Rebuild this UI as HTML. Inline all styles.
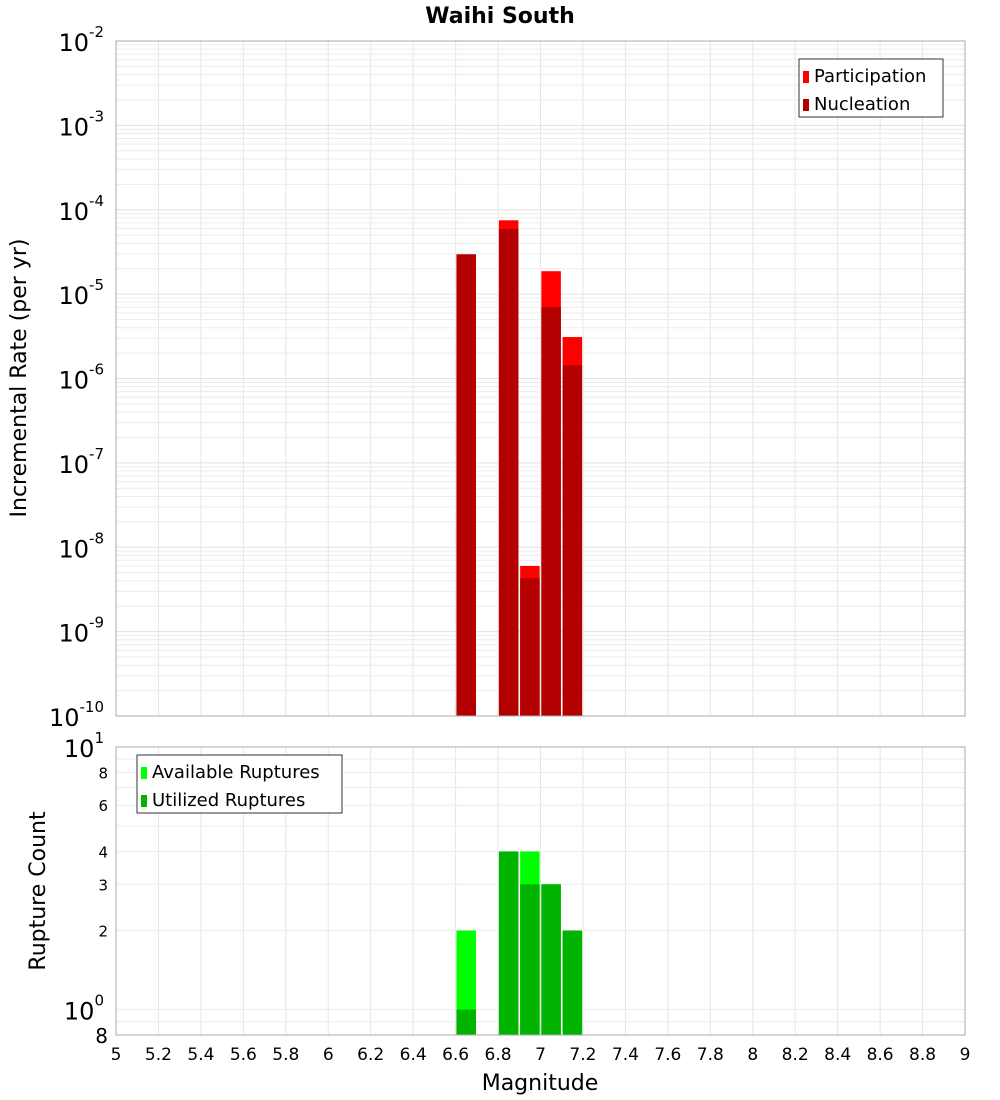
<!DOCTYPE html>
<html><head><meta charset="utf-8"><style>body{margin:0;background:#fff}svg{display:block;font-family:"DejaVu Sans","Liberation Sans",sans-serif}</style></head>
<body>
<svg id="chart" width="1000" height="1100" xmlns="http://www.w3.org/2000/svg">
<text x="500" y="23" text-anchor="middle" font-size="22" font-weight="bold">Waihi South</text>
<g id="grid"></g><g id="bars"></g><g id="axes"></g>
</svg>
<script>
const mags=[6.65,6.85,6.95,7.05,7.15];
const participation=[2.96e-5,7.5e-5,6.0e-9,1.87e-5,3.1e-6];
const nucleation=[2.96e-5,5.9e-5,4.3e-9,7.0e-6,1.44e-6];
const available=[2,4,4,3,2];
const utilized=[1,4,3,3,2];
const xTicks=[5,5.2,5.4,5.6,5.8,6,6.2,6.4,6.6,6.8,7,7.2,7.4,7.6,7.8,8,8.2,8.4,8.6,8.8,9];
const topExps=[-10,-9,-8,-7,-6,-5,-4,-3,-2];
const botTicks=[2,3,4,6,8];

const NS='http://www.w3.org/2000/svg';
const X0=116,X1=965,T0=41,T1=716,B0=747,B1=1035;
const xs=m=>X0+(m-5)/(9-5)*(X1-X0);
const yt=v=>T1-(Math.log10(v)+10)/8*(T1-T0);
const lb0=Math.log10(0.8),lb1=1;
const yb=v=>B1-(Math.log10(v)-lb0)/(lb1-lb0)*(B1-B0);
function mk(tag,attrs,parent,name){const e=document.createElementNS(NS,tag);for(const k in attrs)e.setAttribute(k,attrs[k]);


parent.appendChild(e);return e;}
const grid=document.getElementById('grid'),bars=document.getElementById('bars'),axes=document.getElementById('axes');
// backgrounds
mk('rect',{x:X0,y:T0,width:X1-X0,height:T1-T0,fill:'#fff'},grid,'top-plot-area');
mk('rect',{x:X0,y:B0,width:X1-X0,height:B1-B0,fill:'#fff'},grid,'bottom-plot-area');
// vertical grid
xTicks.forEach(t=>{const x=xs(t);
mk('line',{x1:x,x2:x,y1:T0,y2:T1,stroke:'#e6e6e6'},grid,'top-x-grid');
mk('line',{x1:x,x2:x,y1:B0,y2:B1,stroke:'#e6e6e6'},grid,'bottom-x-grid');
const tx=mk('text',{x:x,y:1060,'text-anchor':'middle','font-size':17},axes,'x-tick-label');tx.textContent=String(t);
});
// top horizontal grid
for(let e=-10;e<-2;e++){for(let k=1;k<10;k++){const y=yt(k*Math.pow(10,e));mk('line',{x1:X0,x2:X1,y1:y,y2:y,stroke:k==1?'#e0e0e0':'#ececec'},grid,'top-y-grid');}}
topExps.forEach(e=>{const y=yt(Math.pow(10,e));const t=mk('text',{x:104,y:y+10,'text-anchor':'end','font-size':24},axes,'top-y-tick-label');
t.innerHTML='10<tspan dy="-14" font-size="15">'+e+'</tspan>';});
// bottom horizontal grid
[0.8,0.9,1,2,3,4,5,6,7,8,9,10].forEach(v=>{const y=yb(v);mk('line',{x1:X0,x2:X1,y1:y,y2:y,stroke:'#ececec'},grid,'bottom-y-grid');});
botTicks.forEach(v=>{const t=mk('text',{x:108,y:yb(v)+6,'text-anchor':'end','font-size':15},axes,'bottom-y-tick-label');t.textContent=String(v);});
[[1,'0'],[10,'1']].forEach(([v,e])=>{const t=mk('text',{x:104,y:yb(v)+10,'text-anchor':'end','font-size':24},axes,'bottom-y-tick-label');t.innerHTML='10<tspan dy="-14" font-size="15">'+e+'</tspan>';});
{const t=mk('text',{x:108,y:B1+8,'text-anchor':'end','font-size':20},axes,'bottom-y-tick-label');t.textContent='8';}
// bars
const bw=19.5;
mags.forEach((m,i)=>{const x=xs(m)-bw/2;
let y=yt(participation[i]);mk('rect',{x:x,y:y,width:bw,height:T1-y,fill:'#ff0000'},bars,'participation-bar');
y=yt(nucleation[i]);mk('rect',{x:x,y:y,width:bw,height:T1-y,fill:'#b30000'},bars,'nucleation-bar');
y=yb(available[i]);mk('rect',{x:x,y:y,width:bw,height:B1-y,fill:'#00ff00'},bars,'available-bar');
y=yb(utilized[i]);mk('rect',{x:x,y:y,width:bw,height:B1-y,fill:'#00b300'},bars,'utilized-bar');
});
// frames
mk('rect',{x:X0,y:T0,width:X1-X0,height:T1-T0,fill:'none',stroke:'#aaa'},axes,'top-plot-frame');
mk('rect',{x:X0,y:B0,width:X1-X0,height:B1-B0,fill:'none',stroke:'#aaa'},axes,'bottom-plot-frame');
// axis titles
let t=mk('text',{x:26,y:378,'text-anchor':'middle','font-size':22,transform:'rotate(-90 26 378)'},axes,'top-y-axis-title');t.textContent='Incremental Rate (per yr)';
t=mk('text',{x:45,y:891,'text-anchor':'middle','font-size':22,transform:'rotate(-90 45 891)'},axes,'bottom-y-axis-title');t.textContent='Rupture Count';
t=mk('text',{x:540,y:1090,'text-anchor':'middle','font-size':22},axes,'x-axis-title');t.textContent='Magnitude';
// legends
function legend(x,y,w,items,name){const g=mk('g',{},axes,name);mk('rect',{x:x,y:y,width:w,height:58,fill:'#fff',stroke:'#333'},g,name+'-box');
items.forEach((it,i)=>{mk('rect',{x:x+4,y:y+12+i*28,width:6,height:12,fill:it[1]},g,'legend-swatch');const tt=mk('text',{x:x+15,y:y+23+i*28,'font-size':18},g,'legend-entry');tt.textContent=it[0];});}
legend(799,59,144,[['Participation','#ff0000'],['Nucleation','#b30000']],'top-legend');
legend(137,755,205,[['Available Ruptures','#00ff00'],['Utilized Ruptures','#00b300']],'bottom-legend');
</script>
</body></html>
